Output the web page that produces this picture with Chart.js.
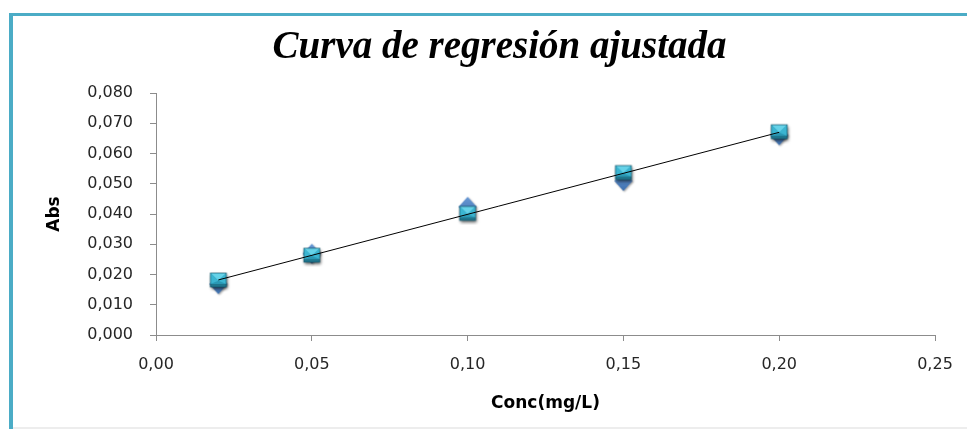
<!DOCTYPE html>
<html>
<head>
<meta charset="utf-8">
<script src="https://cdn.jsdelivr.net/npm/chart.js@4.4.1/dist/chart.umd.min.js"></script>
<style>
  html, body { margin: 0; padding: 0; background: #ffffff; }
  #wrap { width: 967px; height: 429px; position: relative; }
</style>
</head>
<body>
<div id="wrap"><canvas id="c"></canvas></div>
<script>
// ---- data ----
const concentrations = [0.02, 0.05, 0.10, 0.15, 0.20];
const absDiamonds    = [0.0168, 0.0269, 0.0424, 0.0509, 0.0660];
const absSquares     = [0.0182, 0.0264, 0.0402, 0.0537, 0.0672];
const trendX = [0.02, 0.20];
const trendY = [0.0182, 0.0670];
const xTickLabels = ['0,00', '0,05', '0,10', '0,15', '0,20', '0,25'];
const yTickLabels = ['0,000', '0,010', '0,020', '0,030', '0,040', '0,050', '0,060', '0,070', '0,080'];

// ---- marker images (bevel look) ----
function makeSquare() {
  const c = document.createElement('canvas');
  c.width = 26; c.height = 24;
  const g = c.getContext('2d');
  const w = 16, h = 14;
  const x = (c.width - w) / 2, y = (c.height - h) / 2;
  g.save();
  g.shadowColor = 'rgba(0,0,0,0.6)';
  g.shadowBlur = 3; g.shadowOffsetX = 1; g.shadowOffsetY = 2;
  g.fillStyle = '#2A98B4';
  g.fillRect(x, y, w, h);
  g.restore();
  // top flap (lighter)
  g.fillStyle = '#66D2E8';
  g.beginPath(); g.moveTo(x, y); g.lineTo(x + w, y); g.lineTo(x + w / 2, y + h * 0.55); g.closePath(); g.fill();
  // side faces
  g.fillStyle = '#3BB5D1';
  g.beginPath(); g.moveTo(x, y); g.lineTo(x + w / 2, y + h * 0.55); g.lineTo(x, y + h - 3); g.closePath(); g.fill();
  g.beginPath(); g.moveTo(x + w, y); g.lineTo(x + w / 2, y + h * 0.55); g.lineTo(x + w, y + h - 3); g.closePath(); g.fill();
  // bottom band
  g.fillStyle = '#1F768D';
  g.fillRect(x, y + h - 3, w, 3);
  g.strokeStyle = 'rgba(20,85,105,0.85)';
  g.lineWidth = 0.8;
  g.strokeRect(x, y, w, h);
  return c;
}
function makeDiamond() {
  const c = document.createElement('canvas');
  c.width = 26; c.height = 26;
  const g = c.getContext('2d');
  const cx = 13, cy = 13, r = 10;
  g.save();
  g.shadowColor = 'rgba(0,0,0,0.35)';
  g.shadowBlur = 2; g.shadowOffsetX = 1; g.shadowOffsetY = 1;
  const grad = g.createLinearGradient(0, cy - r, 0, cy + r);
  grad.addColorStop(0, '#6A9AD6');
  grad.addColorStop(1, '#3E70AE');
  g.fillStyle = grad;
  g.beginPath();
  g.moveTo(cx, cy - r); g.lineTo(cx + r * 0.9, cy); g.lineTo(cx, cy + r); g.lineTo(cx - r * 0.9, cy); g.closePath();
  g.fill();
  g.restore();
  return c;
}
const squareImg = makeSquare();
const diamondImg = makeDiamond();

// ---- frame decoration ----
const framePlugin = {
  id: 'frame',
  beforeDraw(chart) {
    const ctx = chart.ctx;
    ctx.save();
    ctx.fillStyle = '#ffffff';
    ctx.fillRect(0, 0, chart.width, chart.height);
    ctx.fillStyle = '#4BACC6';
    ctx.fillRect(9, 13, chart.width - 9, 3);
    ctx.fillRect(9, 13, 4, chart.height - 13);
    ctx.fillStyle = '#EDEDED';
    ctx.fillRect(13, 427, chart.width - 13, 2);
    ctx.restore();
  }
};

const axisColor = '#8C8C8C';
const tickFont = { family: 'DejaVu Sans', size: 16 };

new Chart(document.getElementById('c'), {
  type: 'scatter',
  data: {
    datasets: [
      {
        label: 'Tendencia',
        data: trendX.map((x, i) => ({ x, y: trendY[i] })),
        showLine: true,
        borderColor: '#000000',
        borderWidth: 1,
        pointRadius: 0,
        order: 0
      },
      {
        label: 'Abs 2',
        data: concentrations.map((x, i) => ({ x, y: absSquares[i] })),
        pointStyle: squareImg,
        order: 1
      },
      {
        label: 'Abs 1',
        data: concentrations.map((x, i) => ({ x, y: absDiamonds[i] })),
        pointStyle: diamondImg,
        order: 2
      }
    ]
  },
  options: {
    responsive: true,
    maintainAspectRatio: false,
    animation: false,
    layout: { padding: { top: 14, left: 64, right: 32, bottom: 6 } },
    plugins: {
      legend: { display: false },
      tooltip: { enabled: false },
      title: {
        display: true,
        text: 'Curva de regresión ajustada',
        color: '#000000',
        font: { family: 'Liberation Serif', size: 39, style: 'italic', weight: 'bold', lineHeight: 1.2 },
        padding: { top: 11, bottom: 21.2 }
      }
    },
    scales: {
      x: {
        type: 'linear',
        min: 0,
        max: 0.25,
        afterFit(scale) { scale.height = 88; },
        ticks: {
          stepSize: 0.05,
          color: '#262626',
          font: tickFont,
          padding: 14,
          maxRotation: 0,
          callback: (v, i) => xTickLabels[i] !== undefined ? xTickLabels[i] : ''
        },
        grid: { drawOnChartArea: false, drawTicks: true, tickLength: 6, color: axisColor },
        border: { display: true, color: axisColor },
        title: {
          display: true,
          text: 'Conc(mg/L)',
          color: '#000000',
          font: { family: 'DejaVu Sans', size: 17, weight: 'bold', lineHeight: 1.2 },
          padding: { top: 0, bottom: 9 }
        }
      },
      y: {
        type: 'linear',
        min: 0,
        max: 0.08,
        afterFit(scale) { scale.width = 92; },
        ticks: {
          stepSize: 0.01,
          color: '#262626',
          font: tickFont,
          padding: 17,
          callback: (v, i) => yTickLabels[i] !== undefined ? yTickLabels[i] : ''
        },
        grid: { drawOnChartArea: false, drawTicks: true, tickLength: 6, color: axisColor },
        border: { display: true, color: axisColor },
        title: {
          display: true,
          text: 'Abs',
          color: '#000000',
          font: { family: 'DejaVu Sans', size: 17, weight: 'bold', lineHeight: 1.2 },
          padding: { top: -19.7, bottom: 0 }
        }
      }
    }
  },
  plugins: [framePlugin]
});
</script>
</body>
</html>
